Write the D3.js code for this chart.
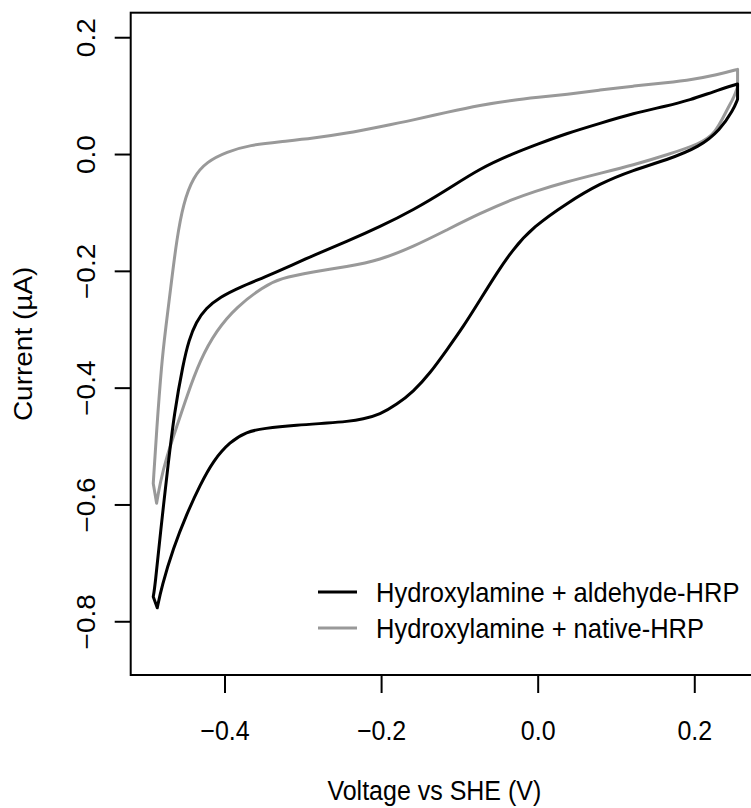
<!DOCTYPE html>
<html><head><meta charset="utf-8">
<script src="https://cdn.jsdelivr.net/npm/d3@7"></script>
<style>body{margin:0;background:#fff} text{font-family:"Liberation Sans",Arial,Helvetica,sans-serif;fill:#000}</style>
</head><body><svg id="c" width="751" height="808"></svg>
<script>
// ---- data ----
const seriesNames = ["Hydroxylamine + aldehyde-HRP", "Hydroxylamine + native-HRP"];
const seriesColors = ["#000000", "#999999"];
const aldehydeV = [-0.491,-0.4888,-0.4815,-0.4718,-0.4642,-0.4527,-0.4454,-0.4364,-0.4236,-0.4057,-0.3801,-0.3483,-0.3164,-0.2866,-0.2440,-0.2014,-0.1589,-0.1162,-0.0737,-0.0312,0.0,0.0370,0.0796,0.1221,0.1648,0.1945,0.2243,0.2553,
  0.2553,0.2498,0.2329,0.2073,0.1648,0.1221,0.0796,0.0370,-0.0056,-0.0324,-0.0524,-0.0737,-0.0950,-0.1162,-0.1376,-0.1589,-0.1801,-0.2014,-0.2228,-0.2440,-0.2653,-0.3078,-0.3505,-0.3717,-0.3930,-0.4144,-0.4313,-0.4483,-0.4654,-0.4803,-0.4859];
const aldehydeI = [-0.758,-0.741,-0.644,-0.529,-0.444,-0.358,-0.3185,-0.2877,-0.2637,-0.2449,-0.2277,-0.2106,-0.1918,-0.1735,-0.150,-0.1245,-0.0959,-0.0616,-0.0245,0.001,0.017,0.0354,0.0526,0.0697,0.0822,0.0925,0.1067,0.120,
  0.0937,0.0753,0.0411,0.0125,-0.0103,-0.0274,-0.0502,-0.0844,-0.1245,-0.1644,-0.2043,-0.250,-0.2957,-0.3356,-0.3755,-0.4070,-0.4290,-0.4460,-0.4540,-0.4580,-0.4605,-0.4640,-0.4697,-0.4755,-0.4926,-0.525,-0.567,-0.6164,-0.6747,-0.7409,-0.777];
const aldehydeBreaks = [0, 27, 28, 58];
const nativeV = [-0.491,-0.4867,-0.4803,-0.4754,-0.4675,-0.4611,-0.4527,-0.4399,-0.4228,-0.3972,-0.3675,-0.3292,-0.2866,-0.2440,-0.2014,-0.1589,-0.1162,-0.0737,-0.0312,0.0,0.0370,0.0796,0.1221,0.1648,0.1987,0.2286,0.2553,
  0.2553,0.2511,0.2414,0.2270,0.208,0.1648,0.1221,0.0796,0.0370,-0.0056,-0.0312,-0.0737,-0.1162,-0.1589,-0.2014,-0.2440,-0.2866,-0.3292,-0.3505,-0.3845,-0.4100,-0.4313,-0.4483,-0.4611,-0.4739,-0.4824,-0.4867];
const nativeI = [-0.564,-0.4726,-0.358,-0.3014,-0.2158,-0.1473,-0.0844,-0.0389,-0.0132,0.0039,0.0154,0.0211,0.0269,0.0354,0.0467,0.0582,0.0714,0.0839,0.0925,0.097,0.1022,0.1096,0.1164,0.1221,0.1279,0.1353,0.1450,
  0.1152,0.0981,0.0753,0.0354,0.018,-0.0017,-0.0188,-0.0330,-0.0474,-0.0646,-0.0771,-0.1015,-0.1301,-0.1587,-0.1815,-0.1930,-0.2015,-0.2128,-0.2272,-0.2615,-0.3014,-0.3527,-0.4156,-0.4670,-0.5183,-0.5639,-0.598];
const nativeBreaks = [0, 26, 27, 53];
const xTicks = [-0.4, -0.2, 0.0, 0.2];
const xTickLabels = ["\u22120.4", "\u22120.2", "0.0", "0.2"];
const yTicks = [-0.8, -0.6, -0.4, -0.2, 0.0, 0.2];
const yTickLabels = ["\u22120.8", "\u22120.6", "\u22120.4", "\u22120.2", "0.0", "0.2"];
const xTitle = "Voltage vs SHE (V)";
const yTitle = "Current (\u00b5A)";

// ---- layout ----
const svg = d3.select("#c");
const x = d3.scaleLinear().domain([-0.5198, 0.2856]).range([130.7, 761.3]);
const y = d3.scaleLinear().domain([-0.892, 0.242]).range([675, 12.7]);
const FS = 25;
const SY = 1.12; // vertical stretch of the reference picture

// curves: smooth pieces between sharp corners
function loopPath(V, I, breaks) {
  const pts = V.map((v, k) => [x(v), y(I[k])]);
  const b = breaks.concat([pts.length - 1]);
  let d = "";
  for (let s = 0; s < b.length - 1; s++) {
    const seg = pts.slice(b[s], b[s + 1] + 1);
    const gen = d3.line().curve(seg.length > 2 ? d3.curveBasis : d3.curveLinear);
    let p = gen(seg);
    if (s > 0) p = "L" + p.slice(1);
    d += p;
  }
  d += "L" + pts[0][0] + "," + pts[0][1];
  return d;
}
const series = [
  {V: nativeV, I: nativeI, br: nativeBreaks, c: seriesColors[1]},
  {V: aldehydeV, I: aldehydeI, br: aldehydeBreaks, c: seriesColors[0]}
];
series.forEach(s => {
  svg.append("path").attr("d", loopPath(s.V, s.I, s.br))
    .attr("fill", "none").attr("stroke", s.c).attr("stroke-width", 3)
    .attr("stroke-linejoin", "round");
});

// box
svg.append("rect").attr("x", x.range()[0]).attr("y", y.range()[1])
  .attr("width", x.range()[1] - x.range()[0]).attr("height", y.range()[0] - y.range()[1])
  .attr("fill", "none").attr("stroke", "#000").attr("stroke-width", 2);

// x axis
const gx = svg.append("g").attr("transform", `translate(0,${y.range()[0]})`)
  .call(d3.axisBottom(x).tickValues(xTicks).tickSize(18)
    .tickFormat((d, k) => xTickLabels[k]));
gx.select(".domain").remove();
gx.selectAll("line").attr("stroke", "#000").attr("stroke-width", 2);
gx.selectAll("text").attr("font-size", FS).attr("font-family", null).attr("dy", null)
  .attr("y", 0).attr("transform", `translate(0,${740 - y.range()[0]}) scale(1,${SY})`);

// y axis
const gy = svg.append("g").attr("transform", `translate(${x.range()[0]},0)`)
  .call(d3.axisLeft(y).tickValues(yTicks).tickSize(16)
    .tickFormat((d, k) => yTickLabels[k]));
gy.select(".domain").remove();
gy.selectAll("line").attr("stroke", "#000").attr("stroke-width", 2);
gy.selectAll("text").attr("font-size", FS).attr("font-family", null)
  .attr("x", 0).attr("y", 0).attr("dy", null).attr("text-anchor", "middle")
  .attr("transform", `translate(${95 - x.range()[0]},0) scale(1,${SY}) rotate(-90)`);

// titles
svg.append("text").attr("transform", `translate(${(x(-0.5198) + 738) / 2},800) scale(1,${SY})`)
  .attr("text-anchor", "middle").attr("font-size", FS).text(xTitle);
svg.append("text").attr("transform", `translate(32,${(y.range()[0] + y.range()[1]) / 2}) scale(1,${SY}) rotate(-90)`)
  .attr("text-anchor", "middle").attr("font-size", FS).text(yTitle);

// legend
const lg = svg.append("g");
seriesNames.forEach((n, k) => {
  const ly = 592 + k * 36;
  lg.append("line").attr("x1", 318).attr("x2", 357).attr("y1", ly).attr("y2", ly)
    .attr("stroke", seriesColors[k]).attr("stroke-width", 3);
  lg.append("text").attr("transform", `translate(376,${ly + 10}) scale(1,${SY})`)
    .attr("font-size", 25.5).text(n);
});
</script></body></html>
